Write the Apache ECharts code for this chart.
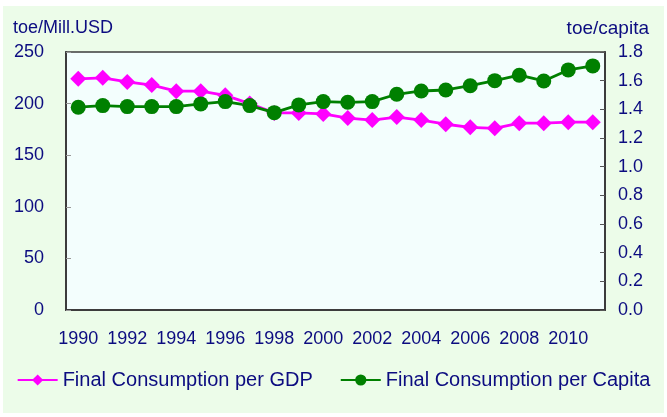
<!DOCTYPE html>
<html>
<head>
<meta charset="utf-8">
<script src="https://cdn.jsdelivr.net/npm/echarts@6/dist/echarts.min.js"></script>
<style>
  html, body { margin: 0; padding: 0; background: #ffffff; }
  #chart { width: 667px; height: 417px; }
</style>
</head>
<body>
<div id="chart"></div>
<script>
// Years on the category axis
const years = ['1990','1991','1992','1993','1994','1995','1996','1997','1998','1999','2000',
               '2001','2002','2003','2004','2005','2006','2007','2008','2009','2010','2011'];

// Final consumption per GDP (toe/Mill.USD, left axis)
const perGdp = [224, 225, 221, 218, 212, 212, 208, 200, 191, 191, 190,
                186, 184, 187, 184, 180, 177, 176, 181, 181, 182, 182];

// Final consumption per capita (toe/capita, right axis)
const perCapita = [1.415, 1.426, 1.419, 1.419, 1.419, 1.438, 1.454, 1.426, 1.377, 1.431, 1.454,
                   1.449, 1.454, 1.505, 1.528, 1.535, 1.565, 1.600, 1.638, 1.598, 1.675, 1.703];

const seriesNames = ['Final Consumption per GDP', 'Final Consumption per Capita'];
const leftUnit = 'toe/Mill.USD';
const rightUnit = 'toe/capita';

const navy = '#0c0c80';
const font = '"Liberation Sans", Arial, sans-serif';
const frame = '#3c3c3c';

const chart = echarts.init(document.getElementById('chart'), null, { renderer: 'canvas' });

chart.setOption({
  animation: false,
  backgroundColor: '#ffffff',
  graphic: [
    { type: 'rect', z: -10, silent: true,
      shape: { x: 3, y: 6, width: 661, height: 407 },
      style: { fill: '#ecfce9' } },
    { type: 'text', left: 13, top: 19,
      style: { text: leftUnit, fill: navy, font: '18px ' + font } },
    { type: 'text', right: 18, top: 19,
      style: { text: rightUnit, fill: navy, font: '19px ' + font } }
  ],
  grid: {
    left: 66, right: 62, top: 52, bottom: 107,
    show: true, backgroundColor: '#f3fefd',
    borderColor: frame, borderWidth: 1.5
  },
  legend: {
    bottom: 22, left: 'center',
    itemWidth: 40, itemHeight: 14, itemGap: 27,
    textStyle: { color: navy, fontSize: 20, fontFamily: font },
    data: seriesNames
  },
  xAxis: {
    type: 'category',
    data: years,
    boundaryGap: true,
    axisLine: { lineStyle: { color: frame, width: 2 } },
    axisTick: { inside: true, length: 5, interval: 0, lineStyle: { color: '#555' } },
    axisLabel: { interval: 1, margin: 20, color: navy, fontSize: 18, fontFamily: font }
  },
  yAxis: [
    {
      type: 'value', min: 0, max: 250, interval: 50,
      axisLine: { show: true, lineStyle: { color: frame, width: 2 } },
      axisTick: { show: true, inside: true, length: 5, lineStyle: { color: '#999' } },
      splitLine: { show: false },
      axisLabel: { margin: 22, color: navy, fontSize: 18, fontFamily: font }
    },
    {
      type: 'value', min: 0, max: 1.8, interval: 0.2,
      axisLine: { show: true, lineStyle: { color: frame, width: 2 } },
      axisTick: { show: true, inside: true, length: 5, lineStyle: { color: '#555' } },
      splitLine: { show: false },
      axisLabel: { margin: 13, color: navy, fontSize: 18, fontFamily: font,
                   formatter: v => v.toFixed(1) }
    }
  ],
  series: [
    {
      name: seriesNames[0], type: 'line', yAxisIndex: 0,
      data: perGdp,
      symbol: 'diamond', symbolSize: [16, 16],
      itemStyle: { color: '#ff00ff' },
      lineStyle: { color: '#ff00ff', width: 2.8 }
    },
    {
      name: seriesNames[1], type: 'line', yAxisIndex: 1,
      data: perCapita,
      symbol: 'circle', symbolSize: 15,
      itemStyle: { color: '#008000' },
      lineStyle: { color: '#008000', width: 2.8 }
    }
  ]
});
</script>
</body>
</html>
